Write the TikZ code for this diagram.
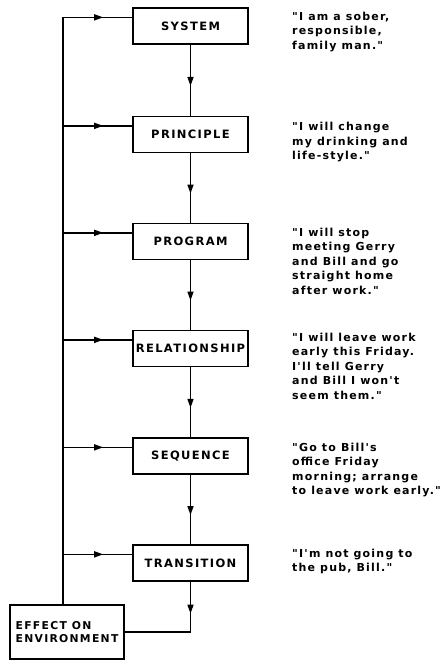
\documentclass[tikz,border=0pt]{standalone}
\usepackage{fontspec}
\setmainfont{DejaVu Sans}
\newfontfamily\labelfont[LetterSpace=12]{DejaVu Sans Bold}
\newfontfamily\quotefont[LetterSpace=11]{DejaVu Sans Bold}
\usetikzlibrary{arrows.meta,decorations.markings,calc}

\begin{document}
\begin{tikzpicture}[x=1pt,y=-1pt,
  stage/.style={draw, line width=1.3pt, minimum width=115pt, minimum height=36pt,
    inner sep=0pt, font=\labelfont\fontsize{11.5}{12.5}\selectfont},
  wire/.style={line width=1.4pt, line join=miter},
  midarrow/.style={postaction={decorate}, decoration={markings,
    mark=at position #1 with {\arrow{Triangle[length=9pt,width=6pt]}}}},
  saying/.style={anchor=north west, inner sep=0pt, align=left,
    font=\quotefont\fontsize{11}{14.5}\selectfont}
]
\useasboundingbox (0,0) rectangle (444,661);
\fill[white] (0,0) rectangle (444,661);

% the six stages of the hierarchy
\node[stage] (sys) at (190.5,26)    {SYSTEM};
\node[stage] (pri) at (190.5,134.5) {PRINCIPLE};
\node[stage] (pro) at (190.5,241.5) {PROGRAM};
\node[stage] (rel) at (190.5,348.5) {RELATIONSHIP};
\node[stage] (seq) at (190.5,456)   {SEQUENCE};
\node[stage] (tra) at (190.5,563)   {TRANSITION};
\node[stage, minimum width=114pt, minimum height=54pt, align=left,
  font=\labelfont\fontsize{10.8}{12.5}\selectfont] (eff) at (67,632)
  {EFFECT ON\\ENVIRONMENT};

% entry points on the left side of each stage
\foreach \n in {sys,pri,pro,rel,seq,tra}
  \coordinate (\n-in) at ($(\n.north west)+(0,10)$);
\coordinate (busx) at (63,0);

% feedback bus from the environment up the left side
\draw[wire] (eff.north -| busx) -- (busx |- sys-in);
\foreach \n in {sys,pri,pro,rel,seq,tra}
  \draw[wire, midarrow=0.58] (busx |- \n-in) -- (\n-in);

% downward chain between stages
\draw[wire, midarrow=0.58] (sys) -- (pri);
\draw[wire, midarrow=0.58] (pri) -- (pro);
\draw[wire, midarrow=0.58] (pro) -- (rel);
\draw[wire, midarrow=0.58] (rel) -- (seq);
\draw[wire, midarrow=0.58] (seq) -- (tra);
\draw[wire, midarrow=32pt] (tra.south) |- (eff.east);

% example statements for each level
\node[saying] (q1) at (292,11.5)
  {"I am a sober,\\responsible,\\family man."};
\node[saying] (q2) at (292,122)
  {"I will change\\my drinking and\\life-style."};
\node[saying] (q3) at (292,227.5)
  {"I will stop\\meeting Gerry\\and Bill and go\\straight home\\after work."};
\node[saying] (q4) at (292,332.5)
  {"I will leave work\\early this Friday.\\I'll tell Gerry\\and Bill I won't\\seem them."};
\node[saying] (q5) at (292,442.5)
  {"Go to Bill's\\office Friday\\morning; arrange\\to leave work early."};
\node[saying] (q6) at (292,548.5)
  {"I'm not going to\\the pub, Bill."};
\end{tikzpicture}
\end{document}
